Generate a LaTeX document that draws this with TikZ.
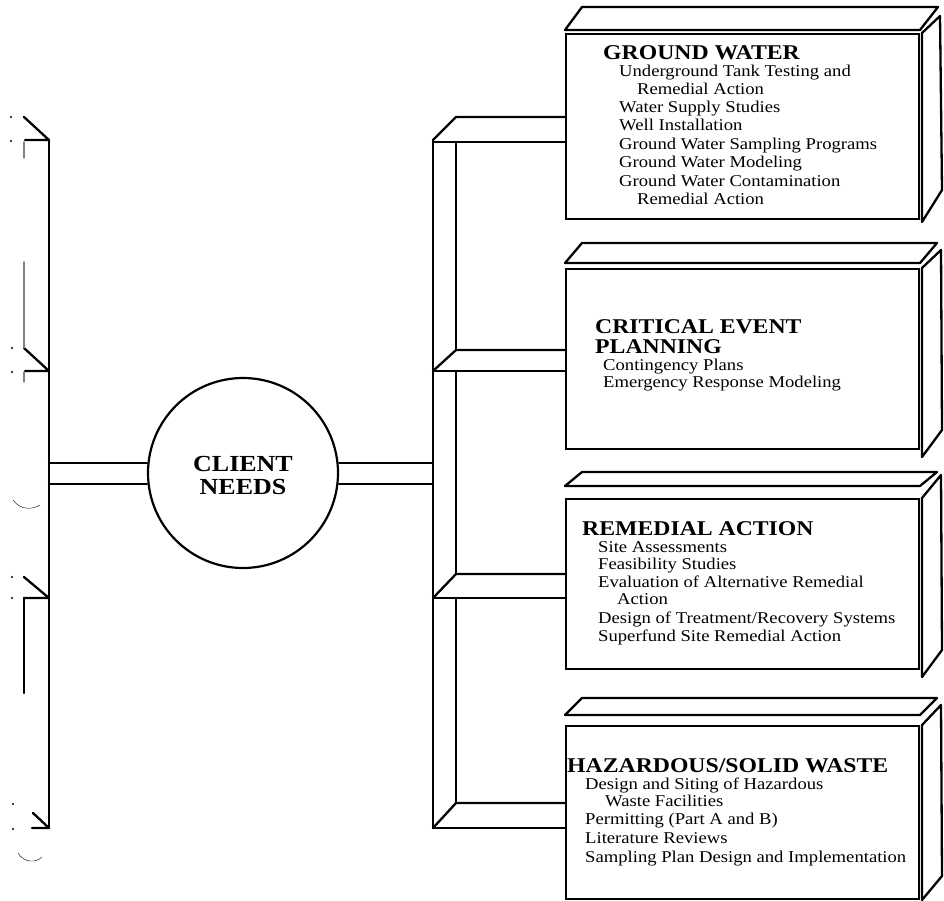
\documentclass[tikz,border=0pt]{standalone}
\usepackage{fontspec}
\newfontfamily\gfont{Liberation Serif}[FakeStretch=1.13]
\newcommand\ttlfont{\gfont\bfseries\fontsize{21}{22}\selectfont}
\newcommand\itmfont{\gfont\fontsize{16.5}{18}\selectfont}
\newcommand\cnfont{\gfont\bfseries\fontsize{23}{24}\selectfont}
\begin{document}
\begin{tikzpicture}[x=1pt,y=-1pt,
  ln/.style={line width=2.3pt, line join=round, line cap=round},
  thinln/.style={line width=1.4pt, line cap=round},
  front/.style={draw, line width=2.3pt, rectangle, inner sep=0, anchor=north west},
  ttl/.style={anchor=base west, inner sep=0, font=\ttlfont},
  itm/.style={anchor=base west, inner sep=0, font=\itmfont},
  cn/.style={anchor=base, inner sep=0, font=\cnfont},
  dotm/.style={fill, circle, inner sep=0, minimum size=2.2pt}]
\useasboundingbox (0,0) rectangle (944,901);

% ---------- boxes ----------
% Box 1: GROUND WATER
\node[front, minimum width=353pt, minimum height=185pt] (gw) at (565,33) {};
\draw[ln] (565,30) -- (582,7) -- (938,7) -- (920,30) -- cycle;
\draw[ln] (922,33) -- (940,16) -- (942,190) -- (922,222) -- cycle;
% Box 2: CRITICAL EVENT PLANNING
\node[front, minimum width=353pt, minimum height=180pt] (cep) at (565,268) {};
\draw[ln] (565,263) -- (582,243) -- (937,243) -- (920,263) -- cycle;
\draw[ln] (922,268) -- (941,250) -- (942,430) -- (922,457) -- cycle;
% Box 3: REMEDIAL ACTION
\node[front, minimum width=353pt, minimum height=170pt] (ra) at (565,498) {};
\draw[ln] (565,486) -- (582,472) -- (937,472) -- (920,486) -- cycle;
\draw[ln] (922,498) -- (941,475) -- (942,650) -- (922,677) -- cycle;
% Box 4: HAZARDOUS/SOLID WASTE
\node[front, minimum width=353pt, minimum height=173pt] (hsw) at (565,725) {};
\draw[ln] (565,715) -- (582,698) -- (937,698) -- (920,715) -- cycle;
\draw[ln] (922,725) -- (941,705) -- (942,876) -- (922,900) -- cycle;

% ---------- texts ----------
\node[ttl] (gw-t) at (603,60) {GROUND WATER};
\node[itm] (gw-1) at (619,77) {Underground Tank Testing and};
\node[itm] (gw-2) at (637,94.5) {Remedial Action};
\node[itm] (gw-3) at (619,113) {Water Supply Studies};
\node[itm] (gw-4) at (619,131) {Well Installation};
\node[itm] (gw-5) at (619,150) {Ground Water Sampling Programs};
\node[itm] (gw-6) at (619,168) {Ground Water Modeling};
\node[itm] (gw-7) at (619,187) {Ground Water Contamination};
\node[itm] (gw-8) at (637,205) {Remedial Action};

\node[ttl] (cep-t1) at (595,333) {CRITICAL EVENT};
\node[ttl] (cep-t2) at (595,353) {PLANNING};
\node[itm] (cep-1) at (603,370) {Contingency Plans};
\node[itm] (cep-2) at (603,387) {Emergency Response Modeling};

\node[ttl] (ra-t) at (582,535) {REMEDIAL ACTION};
\node[itm] (ra-1) at (598,552) {Site Assessments};
\node[itm] (ra-2) at (598,569) {Feasibility Studies};
\node[itm] (ra-3) at (598,587) {Evaluation of Alternative Remedial};
\node[itm] (ra-4) at (617,604) {Action};
\node[itm] (ra-5) at (598,623) {Design of Treatment/Recovery Systems};
\node[itm] (ra-6) at (598,641) {Superfund Site Remedial Action};

\node[ttl] (hsw-t) at (567,772) {HAZARDOUS/SOLID WASTE};
\node[itm] (hsw-1) at (585,789) {Design and Siting of Hazardous};
\node[itm] (hsw-2) at (605,806) {Waste Facilities};
\node[itm] (hsw-3) at (585,824) {Permitting (Part A and B)};
\node[itm] (hsw-4) at (585,843) {Literature Reviews};
\node[itm] (hsw-5) at (585,862) {Sampling Plan Design and Implementation};

% ---------- central circle ----------
\node[draw, circle, line width=2.2pt, minimum size=190pt, inner sep=0] (client) at (243,473) {};
\node[cn] (cn1) at (243,471) {CLIENT};
\node[cn] (cn2) at (243,494) {NEEDS};

% ---------- right pipe system ----------
% outer vertical
\draw[ln] (433,140) -- (433,828);
% top cap and branch 1
\draw[ln] (433,140) -- (456,117) -- (gw.west |- 0,117);
\draw[ln] (433,142) -- (gw.west |- 0,142);
\draw[ln] (456,142) -- (456,350);
% branch 2
\draw[ln] (cep.west |- 0,350) -- (456,350) -- (433,371);
\draw[ln] (433,371) -- (cep.west |- 0,371);
\draw[ln] (456,371) -- (456,574);
% branch 3
\draw[ln] (ra.west |- 0,574) -- (456,574) -- (433,598);
\draw[ln] (433,598) -- (ra.west |- 0,598);
\draw[ln] (456,598) -- (456,803);
% branch 4
\draw[ln] (hsw.west |- 0,803) -- (456,803) -- (433,828);
\draw[ln] (433,828) -- (hsw.west |- 0,828);
% link to circle
\draw[ln] (client.east |- 0,463) -- (433,463);
\draw[ln] (client.east |- 0,484) -- (433,484);

% ---------- left pipe system (cut off) ----------
\draw[ln] (49,140) -- (49,828);
\draw[ln] (24,117) -- (49,140) -- (25,140);
\draw[ln] (24,348) -- (49,371) -- (25,371);
\draw[ln] (24,577) -- (49,598) -- (24,598);
\draw[ln] (33,813) -- (49,828) -- (32,828);
\draw[ln] (49,463) -- (client.west |- 0,463);
\draw[ln] (49,484) -- (client.west |- 0,484);
\draw[thinln, gray] (24,142) -- (24,158);
\draw[thinln, gray] (24,262) -- (24,348);
\draw[thinln, gray] (24,372) -- (24,382);
\draw[ln] (24,598) -- (24,693);
\draw[thin] (13,500) .. controls (20,510) and (32,510) .. (40,505);
\draw[thin] (18,853) .. controls (24,863) and (36,863) .. (42,857);
\foreach \p/\q in {11/117, 11/141, 12/348, 12/372, 12/577, 12/598, 13/804, 13/829}
  \node[dotm] at (\p,\q) {};
\end{tikzpicture}
\end{document}
